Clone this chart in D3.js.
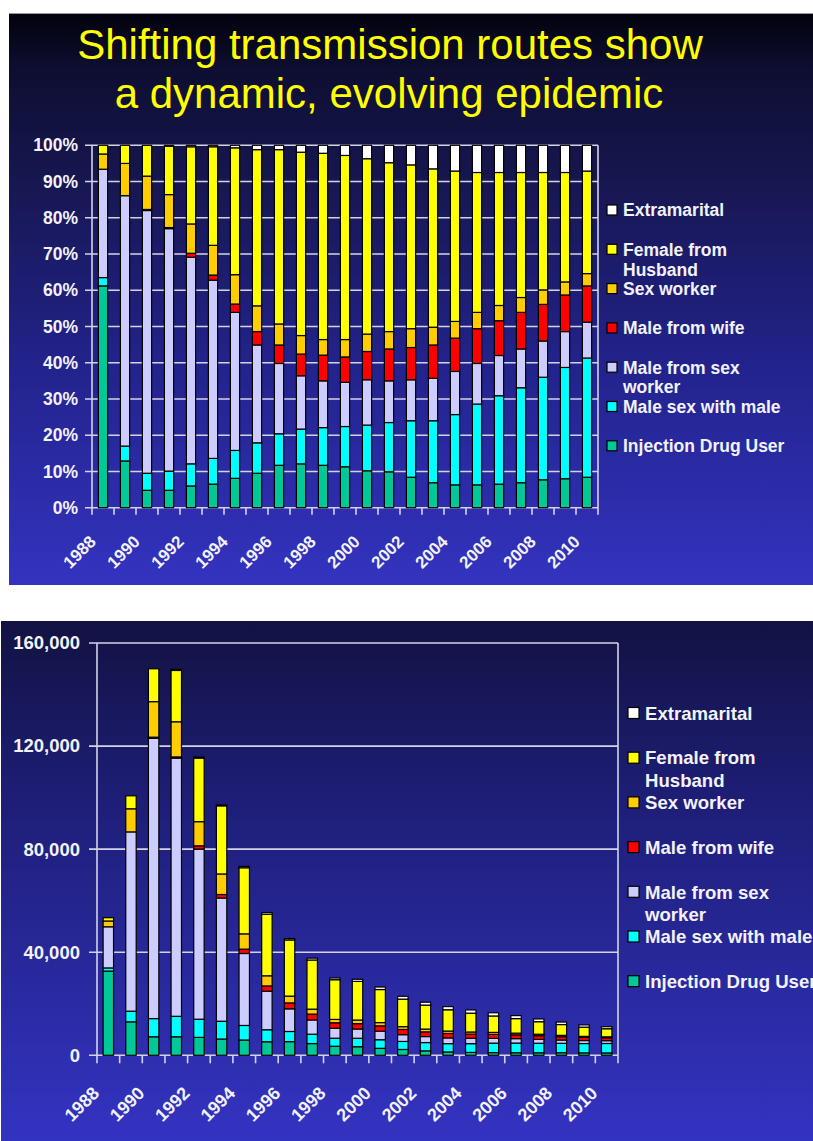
<!DOCTYPE html>
<html><head><meta charset="utf-8">
<script src="https://cdn.jsdelivr.net/npm/d3@7"></script>
<style>
html,body{margin:0;padding:0;background:#fff;}
svg{display:block;}
text{font-family:"Liberation Sans",Arial,sans-serif;}
</style></head><body>
<svg id="chart" width="813" height="1141"></svg>
<script>
// ---------------- DATA ----------------
const years = ["1988","1989","1990","1991","1992","1993","1994","1995","1996","1997","1998","1999",
               "2000","2001","2002","2003","2004","2005","2006","2007","2008","2009","2010"];
const xLabelYears = ["1988","1990","1992","1994","1996","1998","2000","2002","2004","2006","2008","2010"];
// share of new infections (%)
const injectionDrugUser = [61.2,12.9,4.8,4.8,6.0,6.5,8.1,9.5,11.7,12.1,11.7,11.3,10.2,9.9,8.4,6.9,6.3,6.3,6.5,6.9,7.7,8.0,8.4];
const maleSexWithMale   = [2.3,4.1,4.7,5.3,6.1,7.1,7.7,8.4,8.7,9.6,10.4,11.1,12.6,13.6,15.6,17.1,19.4,22.3,24.4,26.2,28.3,30.7,32.9];
const maleFromSexWorker = [29.9,69.1,72.5,66.9,57.0,49.2,38.1,27.0,19.4,14.7,12.9,12.2,12.5,11.5,11.3,11.7,11.9,11.2,11.1,10.7,10.0,9.9,9.9];
const maleFromWife      = [0,0,0.3,0.3,1.1,1.4,2.3,3.7,5.1,6.0,7.1,7.0,7.8,8.8,8.9,9.2,9.2,9.6,9.6,10.1,10.1,10.1,10.0];
const sexWorker         = [4.2,8.9,9.2,9.1,8.1,8.2,8.1,7.1,5.8,5.1,4.3,4.8,4.8,4.8,5.2,4.9,4.6,4.5,4.2,4.1,4.0,3.6,3.4];
const femaleFromHusband = [2.4,5.0,8.5,13.3,21.3,27.2,35.0,43.1,48.1,50.6,51.4,50.8,48.4,46.6,45.2,43.7,41.5,38.6,36.7,34.5,32.4,30.2,28.3];
const extramarital      = [0,0,0,0.3,0.4,0.4,0.7,1.2,1.2,1.9,2.2,2.8,3.7,4.8,5.4,6.5,7.1,7.5,7.5,7.5,7.5,7.5,7.1];
// total new infections per year
const totals = [53400,100700,150000,149800,115800,97200,73300,55400,45300,37700,30000,29500,26500,22900,20600,18900,17600,16500,15400,14100,12900,11800,11100];

const pctTicks = [0,10,20,30,40,50,60,70,80,90,100];
const absTicks = [0,40000,80000,120000,160000];

const seriesKeys = ["idu","msm","msw","wife","sw","fh","extra"];
const seriesColors = ["#00c896","#00ffff","#ccccff","#ff0000","#ffcc00","#ffff00","#ffffff"];
const legendLabels = [["Extramarital"],["Female from","Husband"],["Sex worker"],["Male from wife"],
                      ["Male from sex","worker"],["Male sex with male"],["Injection Drug User"]];
const legendKeys = ["extra","fh","sw","wife","msw","msm","idu"];

// ---------------- TABLES ----------------
const seriesArrays = [injectionDrugUser,maleSexWithMale,maleFromSexWorker,maleFromWife,sexWorker,femaleFromHusband,extramarital];
const rowsPct = years.map((y,i)=>{const r={year:y}; seriesKeys.forEach((k,j)=>r[k]=seriesArrays[j][i]); return r;});
const rowsAbs = rowsPct.map((r,i)=>{const s=d3.sum(seriesKeys,k=>r[k]); const o={year:r.year}; seriesKeys.forEach(k=>o[k]=r[k]/s*totals[i]); return o;});
const color = d3.scaleOrdinal(seriesKeys, seriesColors);

const svg = d3.select("#chart");
const defs = svg.append("defs");
function grad(id, stops){
  const g = defs.append("linearGradient").attr("id",id).attr("x1",0).attr("y1",0).attr("x2",0).attr("y2",1);
  stops.forEach(s=>g.append("stop").attr("offset",s[0]).attr("stop-color",s[1]));
}
grad("bgTop",[[0,"#02020c"],[0.1,"#0e0e32"],[0.3,"#171752"],[0.6,"#22228a"],[1,"#3333c0"]]);
grad("bgBot",[[0,"#121242"],[0.35,"#1e1e78"],[1,"#3333c2"]]);

svg.append("rect").attr("x",9).attr("y",13).attr("width",804).attr("height",572).attr("fill","url(#bgTop)");
svg.append("line").attr("x1",9).attr("x2",813).attr("y1",13.5).attr("y2",13.5).attr("stroke","#9a9aa6").attr("stroke-width",1);
svg.append("rect").attr("x",1).attr("y",621).attr("width",812).attr("height",520).attr("fill","url(#bgBot)");

// Title
svg.append("text").attr("x",390).attr("y",59).attr("text-anchor","middle").attr("fill","#ffff00")
  .attr("font-size",42).text("Shifting transmission routes show");
svg.append("text").attr("x",389).attr("y",108).attr("text-anchor","middle").attr("fill","#ffff00")
  .attr("font-size",42).text("a dynamic, evolving epidemic");

const gridColor = "#d4d4e6", textColor = "#f2f2fa";

function drawChart(cfg){
  const {x0,x1,yTop,yBot,domainMax,ticks,fmt,stacked,barPad,labelSize,axisSize,tickLen,tickPad,labelDx,labelDy,legendX,legendY,legendStep,legendLine2,legendSize,sq} = cfg;
  const x = d3.scaleBand().domain(years).range([x0,x1]).paddingInner(barPad).paddingOuter(barPad/2);
  const y = d3.scaleLinear().domain([0,domainMax]).range([yBot,yTop]);
  const g = svg.append("g");
  // gridlines
  g.selectAll(".grid").data(ticks).join("line")
    .attr("x1",x0-tickLen).attr("x2",x1).attr("y1",d=>y(d)).attr("y2",d=>y(d))
    .attr("stroke",gridColor).attr("stroke-width",1.6);
  // y axis line and right border
  g.append("line").attr("x1",x0).attr("x2",x0).attr("y1",yTop).attr("y2",yBot+tickLen).attr("stroke",gridColor).attr("stroke-width",1.6);
  g.append("line").attr("x1",x1).attr("x2",x1).attr("y1",yTop).attr("y2",yBot+tickLen).attr("stroke",gridColor).attr("stroke-width",1.6);
  // x ticks at category boundaries
  const bounds = years.map(yr=>x(yr)-x.step()*x.paddingInner()/2).slice(1);
  g.selectAll(".xt").data(bounds).join("line")
    .attr("x1",d=>d).attr("x2",d=>d).attr("y1",yBot).attr("y2",yBot+tickLen)
    .attr("stroke",gridColor).attr("stroke-width",1.6);
  // y axis labels via d3 axis
  const ax = g.append("g").attr("transform",`translate(${x0},0)`)
    .call(d3.axisLeft(y).tickValues(ticks).tickFormat(fmt).tickSize(0).tickPadding(tickLen+tickPad));
  ax.select(".domain").remove();
  ax.selectAll("text").attr("fill",textColor).attr("font-size",axisSize).attr("font-weight","bold")
    .attr("font-family","'Liberation Sans',Arial,sans-serif");
  // bars
  g.selectAll(".layer").data(stacked).join("g").attr("fill",d=>color(d.key))
    .selectAll("rect").data(d=>d).join("rect")
    .attr("x",d=>x(d.data.year)).attr("width",x.bandwidth())
    .attr("y",d=>y(d[1])).attr("height",d=>Math.max(0,y(d[0])-y(d[1])))
    .attr("stroke","#000").attr("stroke-width",1.2);
  // x labels
  g.selectAll(".xl").data(xLabelYears).join("text")
    .attr("transform",d=>`translate(${x(d)+x.bandwidth()/2+labelDx},${yBot+labelDy}) rotate(-45)`)
    .attr("text-anchor","end").attr("fill",textColor).attr("font-size",labelSize).attr("font-weight","bold")
    .text(d=>d);
  // legend
  const lg = g.selectAll(".lg").data(legendKeys).join("g")
    .attr("transform",(d,i)=>`translate(${legendX},${legendY+i*legendStep})`);
  lg.append("rect").attr("x",0).attr("y",-sq/2).attr("width",sq).attr("height",sq)
    .attr("fill",d=>color(d)).attr("stroke","#000").attr("stroke-width",1.2);
  lg.each(function(d,i){
    legendLabels[i].forEach((ln,j)=>{
      d3.select(this).append("text").attr("x",sq+6).attr("y",j*legendLine2).attr("dy","0.36em")
        .attr("fill",textColor).attr("font-size",legendSize).attr("font-weight","bold").text(ln);
    });
  });
}

const stackTop = d3.stack().keys(seriesKeys).offset(d3.stackOffsetExpand)(rowsPct);
stackTop.forEach(l=>l.forEach(p=>{p[0]*=100;p[1]*=100;}));
const stackBot = d3.stack().keys(seriesKeys)(rowsAbs);

drawChart({x0:92,x1:598,yTop:145.3,yBot:507.7,domainMax:100,ticks:pctTicks,fmt:d=>d+"%",stacked:stackTop,
  barPad:0.58,labelSize:17,axisSize:17.5,tickLen:7,tickPad:7,labelDx:-6,labelDy:35,
  legendX:607,legendY:210,legendStep:39.3,legendLine2:20,legendSize:17.5,sq:10});
drawChart({x0:97,x1:618,yTop:643,yBot:1055.3,domainMax:160000,ticks:absTicks,fmt:d3.format(","),stacked:stackBot,
  barPad:0.54,labelSize:18,axisSize:18.5,tickLen:8,tickPad:9,labelDx:-8,labelDy:39,
  legendX:628,legendY:713,legendStep:44.7,legendLine2:23,legendSize:18.6,sq:11});
</script>
</body></html>
